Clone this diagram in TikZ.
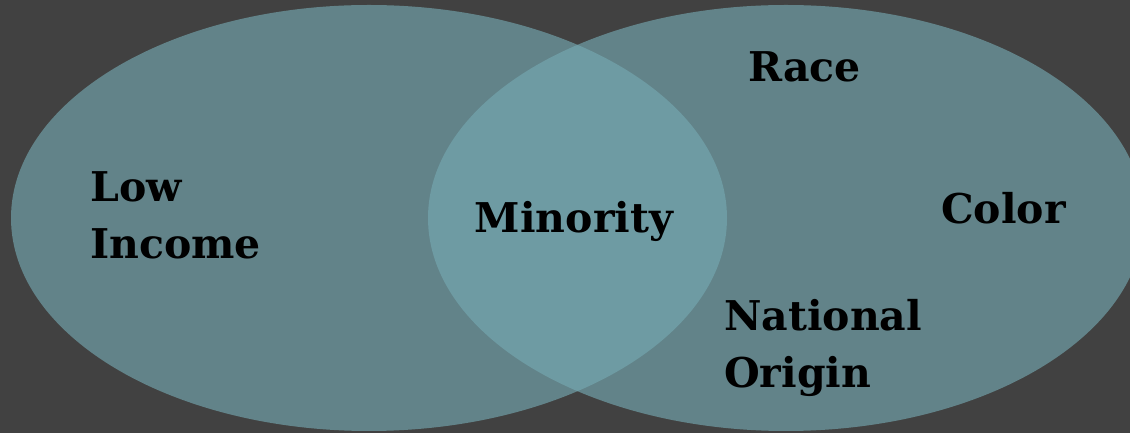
\documentclass[tikz,border=0pt]{standalone}
\usepackage{fontspec}
\setmainfont{DejaVu Serif}
\usetikzlibrary{positioning}

\definecolor{bgdark}{RGB}{65,65,65}
\definecolor{venn}{RGB}{117,169,178}

\tikzset{
  vennset/.style={fill=venn,fill opacity=0.64,draw=none},
  term/.style={inner sep=0pt,font=\bfseries\fontsize{41}{57}\selectfont,align=left,text=black}
}

\begin{document}
\begin{tikzpicture}[x=1pt,y=1pt]

% ---------- Background ----------
\fill[bgdark] (0,0) rectangle (1130,433);
\useasboundingbox (0,0) rectangle (1130,433);

% ---------- Two overlapping sets ----------
\coordinate (L) at (369,215);
\coordinate (R) at (786,215);
\fill[vennset] (L) ellipse [x radius=358, y radius=213];
\fill[vennset] (R) ellipse [x radius=358, y radius=213];

% ---------- Labels (base = last line) ----------
\node[term,anchor=base west] (lowinc) at (90,174) {Low\\Income};
\node[term,anchor=base] (minority) at (574,200) {Minority};
\node[term,anchor=base west] (race) at (748,351) {Race};
\node[term,anchor=base west] (color) at (941,209) {Color};
\node[term,anchor=base west] (natorig) at (724,45) {National\\Origin};

\end{tikzpicture}
\end{document}
